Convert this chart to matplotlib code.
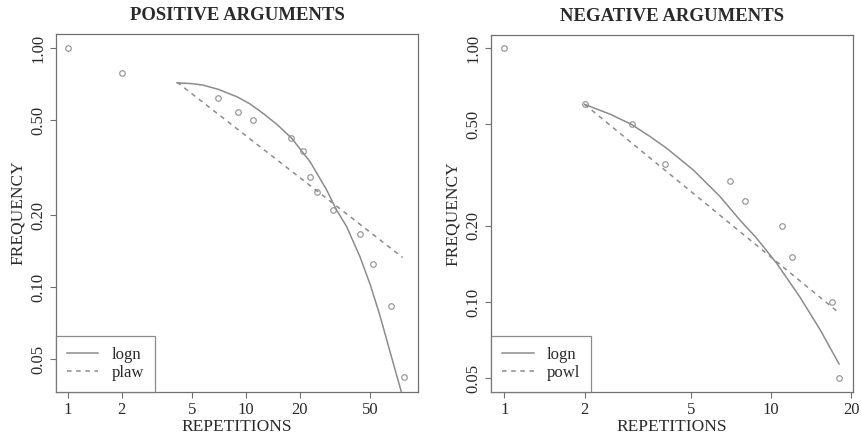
import numpy as np
import matplotlib.pyplot as plt

plt.rcParams['font.family'] = ['Liberation Serif', 'DejaVu Serif']

# Positive arguments: observed frequencies by number of repetitions
pos_reps = [1, 2, 7, 9, 11, 18, 21, 23, 25, 31, 44, 52, 65, 77]
pos_freq = [1.00, 0.79, 0.62, 0.54, 0.50, 0.42, 0.37, 0.29, 0.25, 0.21,
            0.167, 0.125, 0.083, 0.042]

# fitted lognormal curve (positive)
pos_logn_x = [4.1, 5.0, 5.75, 7.0, 8.9, 10.5, 12.5, 15.0, 18.1, 22.9, 28.4,
              32.3, 36.8, 43.7, 50.0, 56.6, 65.0, 75.0, 78.0]
pos_logn_y = [0.716, 0.710, 0.700, 0.672, 0.626, 0.585, 0.533, 0.478, 0.419,
              0.335, 0.255, 0.210, 0.179, 0.134, 0.102, 0.076, 0.0525, 0.036, 0.032]

# fitted power law (positive)
pos_plaw_x = [4.1, 76.0]
pos_plaw_y = [0.720, 0.133]

# Negative arguments
neg_reps = [1, 2, 3, 4, 7, 8, 11, 12, 17, 18]
neg_freq = [1.00, 0.60, 0.50, 0.35, 0.30, 0.25, 0.20, 0.15, 0.10, 0.05]

neg_logn_x = [2.0, 2.5, 3.0, 3.5, 4.06, 5.11, 6.44, 7.65, 8.84, 10.5, 12.8,
              15.3, 18.0]
neg_logn_y = [0.600, 0.548, 0.500, 0.450, 0.403, 0.331, 0.260, 0.210, 0.178,
              0.142, 0.105, 0.0776, 0.057]

neg_powl_x = [2.0, 17.9]
neg_powl_y = [0.600, 0.091]

yticks = [0.05, 0.10, 0.20, 0.50, 1.00]

line_col = '#8c8c8c'
pt_col = '#9a9a9a'
frame_col = '#707070'
text_col = '#2a2a2a'

fig = plt.figure(figsize=(8.61, 4.38), dpi=100)
ax1 = fig.add_axes([0.065, 0.105, 0.4204, 0.817])
ax2 = fig.add_axes([0.5703, 0.105, 0.4204, 0.815])


def setup(ax, title, xticks, xlim, ylim):
    ax.set_xscale('log')
    ax.set_yscale('log')
    ax.set_xlim(*xlim)
    ax.set_ylim(*ylim)
    ax.set_xticks(xticks)
    ax.set_xticklabels([str(t) for t in xticks])
    ax.set_yticks(yticks)
    ax.set_yticklabels(['%.2f' % t for t in yticks], rotation=90, va='center')
    ax.minorticks_off()
    ax.tick_params(direction='out', length=4, width=0.8, color=frame_col,
                   labelsize=12, labelcolor=text_col, pad=3)
    for s in ax.spines.values():
        s.set_color(frame_col)
        s.set_linewidth(0.9)
    ax.set_title(title, fontsize=13.5, fontweight='bold', color=text_col, pad=10)
    ax.set_xlabel('REPETITIONS', fontsize=12.5, color=text_col, labelpad=1)
    ax.set_ylabel('FREQUENCY', fontsize=12.5, color=text_col, labelpad=3)


setup(ax1, 'POSITIVE ARGUMENTS', [1, 2, 5, 10, 20, 50], (0.856, 92.5), (0.0364, 1.144))
setup(ax2, 'NEGATIVE ARGUMENTS', [1, 2, 5, 10, 20], (0.891, 20.3), (0.0442, 1.125))

ax1.plot(pos_reps, pos_freq, 'o', mfc='none', mec=pt_col, ms=4, mew=0.9)
ax1.plot(pos_logn_x, pos_logn_y, '-', color=line_col, lw=1.1, label='logn')
ax1.plot(pos_plaw_x, pos_plaw_y, '--', color=line_col, lw=1.1,
         dashes=(3, 3), label='plaw')

ax2.plot(neg_reps, neg_freq, 'o', mfc='none', mec=pt_col, ms=4, mew=0.9)
ax2.plot(neg_logn_x, neg_logn_y, '-', color=line_col, lw=1.1, label='logn')
ax2.plot(neg_powl_x, neg_powl_y, '--', color=line_col, lw=1.1,
         dashes=(3, 3), label='powl')

for ax in (ax1, ax2):
    leg = ax.legend(loc='lower left', borderaxespad=0, fancybox=False,
                    edgecolor=frame_col, fontsize=12, handlelength=1.9,
                    handletextpad=0.8, borderpad=0.65, labelspacing=0.15)
    leg.get_frame().set_linewidth(0.9)
    for t in leg.get_texts():
        t.set_color(text_col)

fig.savefig('out.png', dpi=100)
